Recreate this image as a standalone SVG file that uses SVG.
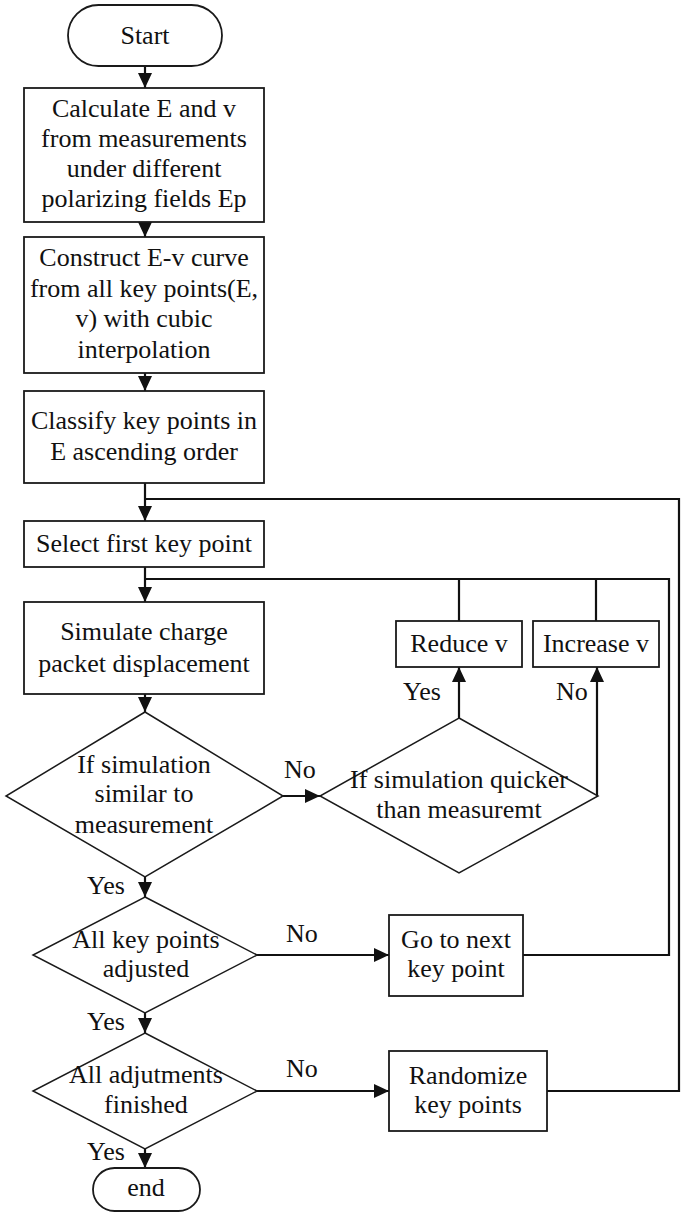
<svg xmlns="http://www.w3.org/2000/svg" width="685" height="1216" viewBox="0 0 685 1216">
<style>
  .node { fill: #fff; stroke: #1a1a1a; stroke-width: 1.8; }
  .dia { fill: #fff; stroke: #1a1a1a; stroke-width: 1.5; }
  text { font-family: 'Liberation Serif', 'Tinos', 'Times New Roman', Times, 'DejaVu Serif', serif; font-size: 26px; fill: #111; }
  .t { text-anchor: middle; }
  .c { fill: none; stroke: #111; stroke-width: 2.2; }
</style>
<defs>
  <marker id="arr" markerUnits="userSpaceOnUse" markerWidth="16" markerHeight="16" refX="15" refY="7" orient="auto">
    <path d="M0,0 L15,7 L0,14 Z" fill="#111"/>
  </marker>
</defs>
<rect width="685" height="1216" fill="#fff"/>

<g id="connectors">
  <line class="c" x1="145" y1="66" x2="145" y2="88" marker-end="url(#arr)"/>
  <line class="c" x1="145" y1="222" x2="145" y2="237" marker-end="url(#arr)"/>
  <line class="c" x1="145" y1="373" x2="145" y2="391" marker-end="url(#arr)"/>
  <line class="c" x1="145" y1="483" x2="145" y2="521" marker-end="url(#arr)"/>
  <line class="c" x1="145" y1="567" x2="145" y2="602" marker-end="url(#arr)"/>
  <line class="c" x1="145" y1="694" x2="145" y2="712" marker-end="url(#arr)"/>
  <line class="c" x1="283" y1="796" x2="320" y2="796" marker-end="url(#arr)"/>
  <line class="c" x1="459" y1="718" x2="459" y2="667" marker-end="url(#arr)"/>
  <polyline class="c" points="598,796 597,796 597,667" marker-end="url(#arr)"/>
  <line class="c" x1="145" y1="877" x2="145" y2="897" marker-end="url(#arr)"/>
  <line class="c" x1="145" y1="1013" x2="145" y2="1033" marker-end="url(#arr)"/>
  <line class="c" x1="145" y1="1149" x2="145" y2="1168" marker-end="url(#arr)"/>
  <line class="c" x1="257" y1="955" x2="389" y2="955" marker-end="url(#arr)"/>
  <line class="c" x1="257" y1="1091" x2="389" y2="1091" marker-end="url(#arr)"/>
  <polyline class="c" points="547,1091 679,1091 679,499 145,499"/>
  <polyline class="c" points="523,955 669,955 669,579 145,579"/>
  <line class="c" x1="459" y1="621" x2="459" y2="579"/>
  <line class="c" x1="596" y1="621" x2="596" y2="579"/>
  <text x="284" y="778">No</text>
  <text x="403" y="700">Yes</text>
  <text x="556" y="700">No</text>
  <text x="87" y="894">Yes</text>
  <text x="286" y="942">No</text>
  <text x="87" y="1030">Yes</text>
  <text x="286" y="1077">No</text>
  <text x="87" y="1160">Yes</text>
</g>

<g id="start">
  <rect class="node" x="68" y="5" width="154" height="61" rx="30.5"/>
  <text class="t" x="145" y="44">Start</text>
</g>
<g id="calc">
  <rect class="node" x="24" y="88" width="240" height="134"/>
  <text class="t" x="144" y="117">Calculate E and v</text>
  <text class="t" x="144" y="147">from measurements</text>
  <text class="t" x="144" y="177">under different</text>
  <text class="t" x="144" y="207">polarizing fields Ep</text>
</g>
<g id="construct">
  <rect class="node" x="24" y="237" width="240" height="136"/>
  <text class="t" x="144" y="266">Construct E-v curve</text>
  <text class="t" x="144" y="297">from all key points(E,</text>
  <text class="t" x="144" y="327">v) with cubic</text>
  <text class="t" x="144" y="358">interpolation</text>
</g>
<g id="classify">
  <rect class="node" x="24" y="391" width="240" height="92"/>
  <text class="t" x="144" y="429">Classify key points in</text>
  <text class="t" x="144" y="460">E ascending order</text>
</g>
<g id="select">
  <rect class="node" x="24" y="521" width="240" height="46"/>
  <text class="t" x="144" y="552">Select first key point</text>
</g>
<g id="simulate">
  <rect class="node" x="24" y="602" width="240" height="92"/>
  <text class="t" x="144" y="640">Simulate charge</text>
  <text class="t" x="144" y="672">packet displacement</text>
</g>
<g id="reduce">
  <rect class="node" x="396" y="621" width="126" height="46"/>
  <text class="t" x="459" y="652">Reduce v</text>
</g>
<g id="increase">
  <rect class="node" x="533" y="621" width="126" height="46"/>
  <text class="t" x="596" y="652">Increase v</text>
</g>
<g id="similar">
  <polygon class="dia" points="145,712 283,796 145,877 6,796"/>
  <text class="t" x="144" y="773">If simulation</text>
  <text class="t" x="144" y="802">similar to</text>
  <text class="t" x="144" y="833">measurement</text>
</g>
<g id="quicker">
  <polygon class="dia" points="459,718 598,796 459,873 320,796"/>
  <text class="t" x="459" y="788">If simulation quicker</text>
  <text class="t" x="459" y="818">than measuremt</text>
</g>
<g id="allkey">
  <polygon class="dia" points="145,897 257,955 145,1013 33,955"/>
  <text class="t" x="146" y="948">All key points</text>
  <text class="t" x="146" y="977">adjusted</text>
</g>
<g id="next">
  <rect class="node" x="389" y="915" width="134" height="81"/>
  <text class="t" x="456" y="948">Go to next</text>
  <text class="t" x="456" y="977">key point</text>
</g>
<g id="alladj">
  <polygon class="dia" points="145,1033 257,1091 145,1149 33,1091"/>
  <text class="t" x="146" y="1083">All adjutments</text>
  <text class="t" x="146" y="1113">finished</text>
</g>
<g id="randomize">
  <rect class="node" x="389" y="1051" width="158" height="80"/>
  <text class="t" x="468" y="1084">Randomize</text>
  <text class="t" x="468" y="1113">key points</text>
</g>
<g id="end">
  <rect class="node" x="93" y="1168" width="107" height="43" rx="21.5"/>
  <text class="t" x="146" y="1196">end</text>
</g>
</svg>
